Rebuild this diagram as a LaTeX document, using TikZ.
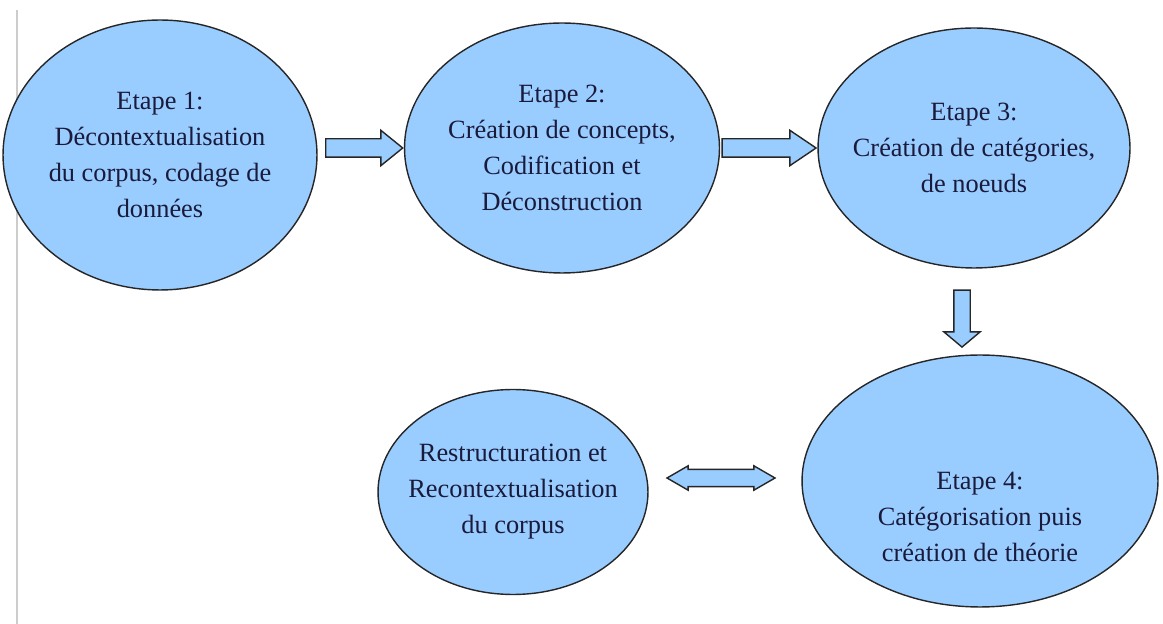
\documentclass[tikz,border=0pt]{standalone}
\usepackage{fontspec}
\setmainfont{Liberation Serif}
\usetikzlibrary{shapes.geometric, shapes.arrows, calc}
\definecolor{EtapeBleu}{HTML}{99CCFF}
\definecolor{EtapeTexte}{HTML}{1A1A3A}
\definecolor{BordGris}{HTML}{CCCCCC}

\begin{document}
\begin{tikzpicture}[x=0.02cm, y=-0.02cm,
    etape/.style={ellipse, draw=black!85, line width=0.8pt, fill=EtapeBleu, inner sep=-0.6cm,
        align=center, text=EtapeTexte, font=\fontsize{15pt}{20.5pt}\selectfont},
    fleche/.style={single arrow, draw=black!85, line width=0.8pt, fill=EtapeBleu, anchor=tip,
        inner xsep=0pt, inner ysep=0.17cm, single arrow head extend=0.17cm, single arrow tip angle=78},
    flechedouble/.style={double arrow, draw=black!85, line width=0.8pt, fill=EtapeBleu,
        inner xsep=0pt, inner ysep=0.16cm, double arrow head extend=0.07cm, double arrow tip angle=60}]
    \useasboundingbox (0,0) rectangle (1163,624);
    \draw[BordGris, line width=0.04cm] (17,10) -- (17,624);

    \node[etape, minimum width=6.28cm, minimum height=5.4cm] (etape1) at (160,155)
        {Etape 1:\\Décontextualisation\\du corpus, codage de\\données};
    \node[etape, minimum width=6.3cm, minimum height=5.0cm] (etape2) at (562,148)
        {Etape 2:\\Création de concepts,\\Codification et\\Déconstruction};
    \node[etape, minimum width=6.24cm, minimum height=4.8cm] (etape3) at (974,148)
        {Etape 3:\\Création de catégories,\\de noeuds};
    \node[etape, minimum width=7.12cm, minimum height=5.04cm] (etape4) at (980,481)
        {\mbox{}\\[1.07cm]Etape 4:\\Catégorisation puis\\création de théorie};
    \node[etape, minimum width=5.4cm, minimum height=4.1cm] (restruct) at (513,492)
        {Restructuration et\\Recontextualisation\\du corpus};

    % fleches entre les etapes
    \node[fleche, minimum height=1.54cm] (f12) at (etape2.west) {};
    \node[fleche, minimum height=1.88cm, single arrow tip angle=68] (f23) at (etape3.west) {};
    \node[fleche, minimum height=1.14cm, rotate=-90, inner ysep=0.15cm,
        single arrow head extend=0.2cm, single arrow tip angle=100] (f34) at (962,348) {};
    \node[flechedouble, minimum height=2.16cm] (f45) at (721,478) {};
\end{tikzpicture}
\end{document}
